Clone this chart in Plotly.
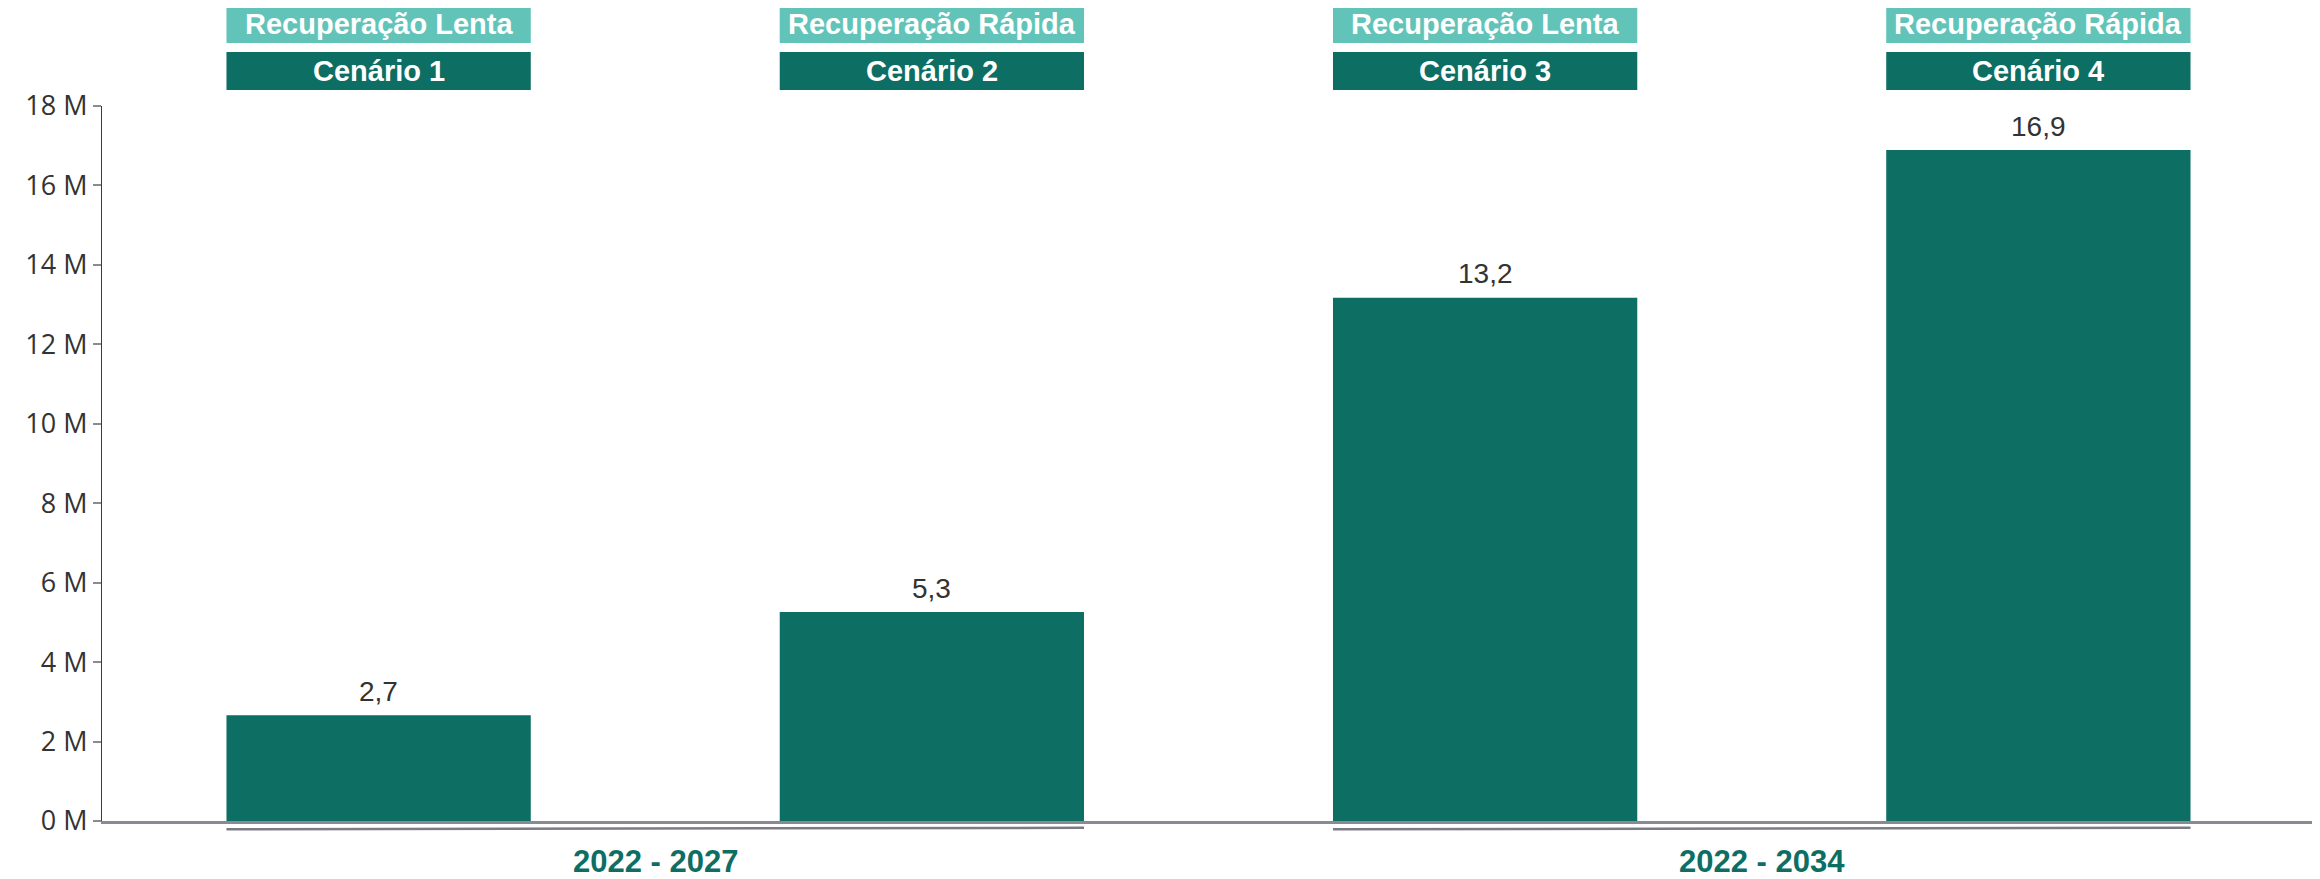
import plotly.graph_objects as go

categories = ["Cenário 1", "Cenário 2", "Cenário 3", "Cenário 4"]
recovery = ["Recuperação Lenta", "Recuperação Rápida", "Recuperação Lenta", "Recuperação Rápida"]
values = [2.66, 5.26, 13.17, 16.89]          # millions
value_labels = ["2,7", "5,3", "13,2", "16,9"]
periods = ["2022 - 2027", "2022 - 2034"]
tick_vals = [0, 2, 4, 6, 8, 10, 12, 14, 16, 18]
tick_text = ["0 M", "2 M", "4 M", "6 M", "8 M", "10 M", "12 M", "14 M", "16 M", "18 M"]

DARK = "#0D6E64"
LIGHT = "#62C4B9"
FONT = "Liberation Sans, Arial"
BW = 0.55

x = list(range(len(categories)))

fig = go.Figure()
fig.add_trace(go.Bar(
    x=x, y=values, width=BW, marker=dict(color=DARK, line=dict(width=0)),
    hoverinfo="skip",
))

shapes = []
annotations = []
for i in x:
    annotations.append(dict(x=i, y=values[i], xref="x", yref="y", text=value_labels[i],
                            showarrow=False, yanchor="middle", xanchor="center", yshift=24,
                            font=dict(family=FONT, size=28, color="#333333")))
    shapes.append(dict(type="rect", xref="x", yref="paper", x0=i - BW / 2, x1=i + BW / 2,
                       y0=1.088, y1=1.140, fillcolor=LIGHT, line=dict(width=0), layer="above"))
    shapes.append(dict(type="rect", xref="x", yref="paper", x0=i - BW / 2, x1=i + BW / 2,
                       y0=1.0225, y1=1.0755, fillcolor=DARK, line=dict(width=0), layer="above"))
    annotations.append(dict(x=i, y=1.114, xref="x", yref="paper", text="<b>%s</b>" % recovery[i],
                            showarrow=False, font=dict(family=FONT, size=29, color="white"),
                            xanchor="center", yanchor="middle"))
    annotations.append(dict(x=i, y=1.049, xref="x", yref="paper", text="<b>%s</b>" % categories[i],
                            showarrow=False, font=dict(family=FONT, size=29, color="white"),
                            xanchor="center", yanchor="middle"))

for g, label in enumerate(periods):
    a, b = 2 * g, 2 * g + 1
    shapes.append(dict(type="line", xref="x", yref="paper", x0=a - BW / 2, x1=b + BW / 2,
                       y0=-0.0115, y1=-0.0095, line=dict(color="#7B7B86", width=2.5)))
    annotations.append(dict(x=(a + b) / 2, y=-0.056, xref="x", yref="paper", text="<b>%s</b>" % label,
                            showarrow=False, font=dict(family=FONT, size=31, color=DARK),
                            xanchor="center", yanchor="middle"))

fig.update_layout(
    width=2312, height=871,
    margin=dict(l=94, r=5, t=98, b=58),
    paper_bgcolor="white", plot_bgcolor="white",
    showlegend=False, bargap=0.45,
    shapes=shapes, annotations=annotations,
    xaxis=dict(range=[-0.5, 3.5], showticklabels=False, ticks="", showgrid=False, zeroline=False,
               showline=True, linecolor="#8A8A94", linewidth=2.5, fixedrange=True),
    yaxis=dict(range=[0, 18], tickvals=tick_vals, ticktext=tick_text, showgrid=False, zeroline=False,
               showline=True, linecolor="#3A3A44", linewidth=1.2, ticks="outside", ticklen=8,
               tickcolor="#8A8A94", tickwidth=1.5,
               tickfont=dict(family="Open Sans, Liberation Sans", size=27, color="#333333"),
               fixedrange=True),
)

fig.write_html("out.html")
